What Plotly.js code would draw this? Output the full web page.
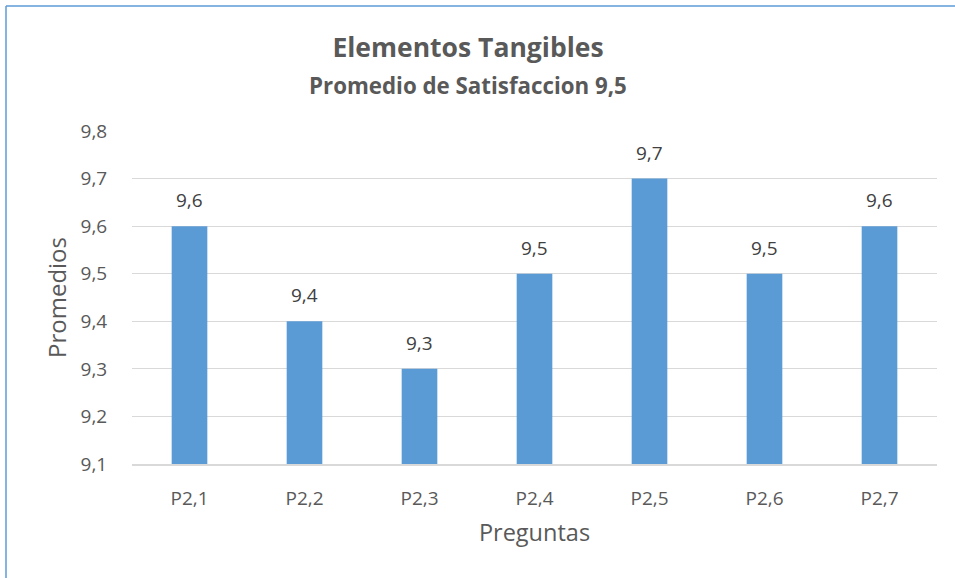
<!DOCTYPE html>
<html><head><meta charset="utf-8">
<script src="https://cdn.plot.ly/plotly-3.0.1.min.js"></script>
<style>html,body{margin:0;padding:0;background:#fff}#c{width:955px;height:578px}</style>
</head><body><div id="c"></div>
<script>
const categories = ['P2,1','P2,2','P2,3','P2,4','P2,5','P2,6','P2,7'];
const promedios = [9.6, 9.4, 9.3, 9.5, 9.7, 9.5, 9.6];
const yTicks = [9.1, 9.2, 9.3, 9.4, 9.5, 9.6, 9.7, 9.8];
const titleText = 'Elementos Tangibles';
const subtitleText = 'Promedio de Satisfaccion 9,5';

const font = 'Open Sans, Lato, sans-serif';
const grey = '#595959';
const L = 132, R = 18, T = 131, B = 114, W = 955, H = 578;
const pw = W - L - R, ph = H - T - B;

const labels = categories.map((c, i) => ({
  x: c, y: promedios[i], xref: 'x', yref: 'y', text: promedios[i].toFixed(1).replace('.', ','),
  showarrow: false, yanchor: 'bottom', yshift: 11,
  font: {family: font, size: 19, color: '#404040'}
}));

Plotly.newPlot('c', [{
  type: 'bar', x: categories, y: promedios,
  marker: {color: '#5B9BD5'}, width: 0.31,
  hoverinfo: 'skip'
}], {
  width: W, height: H, separators: ',.',
  margin: {l: L, r: R, t: T, b: B, pad: 0},
  paper_bgcolor: '#fff', plot_bgcolor: '#fff',
  font: {family: font, color: grey},
  showlegend: false,
  title: {text: '<b>' + titleText + '</b>', font: {family: font, size: 26.5, color: grey},
          x: 468 / W, xanchor: 'center', xref: 'container', y: 1 - 48 / H, yanchor: 'middle', yref: 'container'},
  annotations: [{text: '<b>' + subtitleText + '</b>', xref: 'paper', yref: 'paper',
    x: (468 - L) / pw, y: 1 + (T - 85) / ph, xanchor: 'center', yanchor: 'middle', showarrow: false,
    font: {family: font, size: 22.3, color: grey}}].concat(labels),
  xaxis: {type: 'category', showgrid: false, showline: true, linecolor: '#d9d9d9', linewidth: 1.5,
    ticks: 'outside', ticklen: 17, tickcolor: 'rgba(0,0,0,0)',
    tickfont: {family: font, size: 19, color: grey},
    title: {text: 'Preguntas', font: {family: font, size: 23.5, color: grey}, standoff: 14}},
  yaxis: {range: [9.1, 9.8], tickvals: yTicks, tickformat: '.1f', showgrid: true, gridcolor: '#d9d9d9', gridwidth: 1,
    zeroline: false, showline: false, ticks: 'outside', ticklen: 20, tickcolor: 'rgba(0,0,0,0)',
    tickfont: {family: font, size: 19, color: grey},
    title: {text: 'Promedios', font: {family: font, size: 24, color: grey}, standoff: 7}},
  shapes: [
    {type: 'line', xref: 'paper', yref: 'paper', x0: (6 - L) / pw, x1: (6 - L) / pw, y0: 1 + (T - 6) / ph, y1: -(B + 10) / ph,
     line: {color: '#5B9BD5', width: 1.5}},
    {type: 'line', xref: 'paper', yref: 'paper', x0: (6 - L) / pw, x1: 1 + (R + 10) / pw, y0: 1 + (T - 6) / ph, y1: 1 + (T - 6) / ph,
     line: {color: '#5B9BD5', width: 1.5}}
  ]
}, {displayModeBar: false, staticPlot: true});
</script></body></html>
